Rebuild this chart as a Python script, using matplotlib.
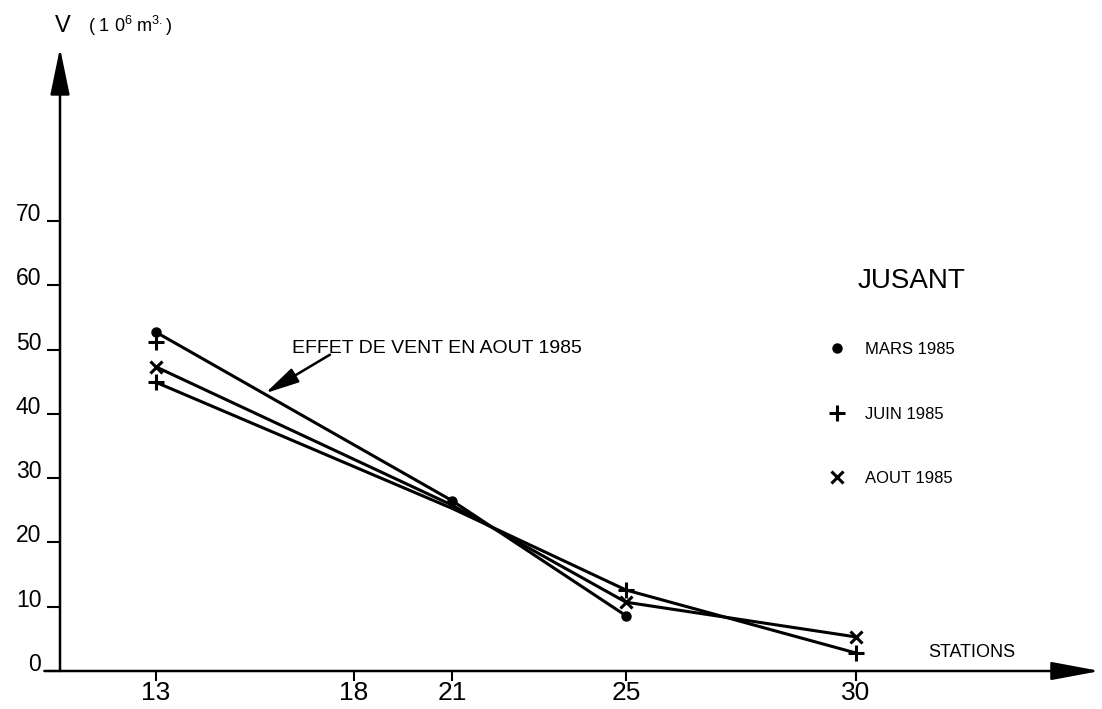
import matplotlib
matplotlib.use('Agg')
import matplotlib.pyplot as plt
from matplotlib.lines import Line2D

plt.rcParams['font.family'] = ['Liberation Sans', 'DejaVu Sans']
plt.rcParams['mathtext.fontset'] = 'custom'
plt.rcParams['mathtext.rm'] = 'Liberation Sans'

# stations and their position along the axis (as drawn, not evenly spaced)
stations = [13, 18, 21, 25, 30]
station_pos = [0.0, 4.95, 7.4, 11.75, 17.5]

# volumes (10^6 m3)
mars_st = [13, 21, 25]
mars_v = [52.7, 26.5, 8.6]
juin_st = [13, 21, 25, 30]
juin_v = [44.9, 25.3, 12.6, 2.8]
aout_st = [13, 21, 25, 30]
aout_v = [47.3, 25.8, 10.7, 5.3]
# second + drawn at station 13
juin_extra_st = [13]
juin_extra_v = [51.2]

yticks = [0, 10, 20, 30, 40, 50, 60, 70]

pos = dict(zip(stations, station_pos))

fig = plt.figure(figsize=(11.02, 7.09), dpi=100)
ax = fig.add_axes([0.05445, 0.0536, 0.9437, 0.8787])
ax.set_xlim(-2.4, 23.6)
ax.set_ylim(0, 96.9)
for s in ax.spines.values():
    s.set_visible(False)

# axes with arrows
ax.annotate('', xy=(1.0, 0), xytext=(-0.015, 0), xycoords='axes fraction',
            arrowprops=dict(arrowstyle='-|>,head_length=1.5,head_width=0.28',
                            mutation_scale=20, lw=1.8, color='k',
                            shrinkA=0, shrinkB=0), annotation_clip=False)
ax.annotate('', xy=(0, 1.0), xytext=(0, 0), xycoords='axes fraction',
            arrowprops=dict(arrowstyle='-|>,head_length=1.45,head_width=0.3',
                            mutation_scale=20, lw=1.8, color='k',
                            shrinkA=0, shrinkB=0), annotation_clip=False)

ax.set_xticks(station_pos)
ax.set_xticklabels([str(s) for s in stations], fontsize=19)
ax.tick_params(axis='x', direction='out', length=7.5, width=1.5, pad=0)
ax.set_yticks(yticks)
ax.set_yticklabels([str(v) for v in yticks], fontsize=16.5)
ax.tick_params(axis='y', direction='out', length=9.5, width=1.5, pad=4)
for lab in ax.get_yticklabels():
    lab.set_verticalalignment('baseline')

kw = dict(color='k', lw=2.2, clip_on=False)
ax.plot([pos[s] for s in mars_st], mars_v, marker='o', ms=6.5, **kw)
ax.plot([pos[s] for s in juin_st], juin_v, marker='+', ms=12, mew=2.2,
        markevery=[0, 2, 3], **kw)
ax.plot([pos[s] for s in aout_st], aout_v, marker='x', ms=9, mew=2.2,
        markevery=[0, 2, 3], **kw)
ax.plot([pos[s] for s in juin_extra_st], juin_extra_v, ls='none', marker='+',
        ms=12, mew=2.2, color='k')

# annotation
ax.text(3.4, 49.4, 'EFFET DE VENT EN AOUT 1985', fontsize=14, va='baseline')
ax.annotate('', xy=(2.73, 43.2), xytext=(4.35, 49.2),
            arrowprops=dict(arrowstyle='-|>,head_length=1.3,head_width=0.3',
                            mutation_scale=16, lw=1.8, color='k',
                            shrinkA=0, shrinkB=0))

ax.text(19.3, 2.2, 'STATIONS', fontsize=13, va='baseline')

fig.text(55 / 1102, 1 - 32 / 709, 'V', fontsize=17, va='baseline')
fig.text(88 / 1102, 1 - 32 / 709, r'( 1 0$^{6}$ m$^{3.}$)', fontsize=13,
         va='baseline')

fig.text(858 / 1102, 1 - 288 / 709, 'JUSANT', fontsize=20, va='baseline')
handles = [Line2D([], [], ls='none', marker='o', ms=6.5, color='k'),
           Line2D([], [], ls='none', marker='+', ms=12, mew=2.2, color='k'),
           Line2D([], [], ls='none', marker='x', ms=9, mew=2.2, color='k')]
ax.legend(handles, ['MARS 1985', 'JUIN 1985', 'AOUT 1985'],
          loc='upper left', bbox_to_anchor=(820 / 1102, 1 - 334 / 709),
          bbox_transform=fig.transFigure, frameon=False, fontsize=12,
          handlelength=1.0, handletextpad=1.2, labelspacing=2.96,
          borderpad=0)

fig.savefig('out.png', dpi=100)
